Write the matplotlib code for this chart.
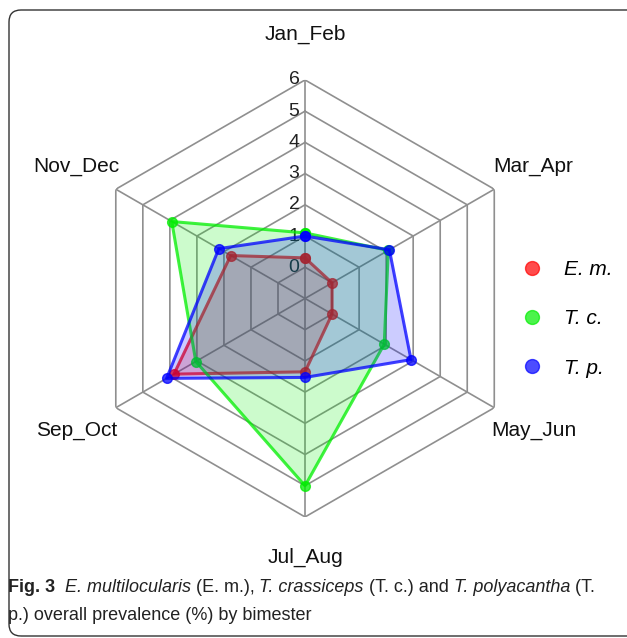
import numpy as np
import matplotlib
matplotlib.use("Agg")
import matplotlib.pyplot as plt
from matplotlib.lines import Line2D
from matplotlib.patches import FancyBboxPatch
from matplotlib.transforms import IdentityTransform

# bimesters, clockwise from the top
labels = ["Jan_Feb", "Mar_Apr", "May_Jun", "Jul_Aug", "Sep_Oct", "Nov_Dec"]

# prevalence (%)
em = [0.3, 0.0, 0.0, 1.35, 3.85, 1.75]
tc = [1.1, 2.08, 1.93, 5.0, 3.04, 3.93]
tp = [1.0, 2.12, 2.92, 1.53, 4.12, 2.19]

series_names = ["E. m.", "T. c.", "T. p."]
colors = ["#ff0000", "#00ee00", "#0000ff"]
rticks = [0, 1, 2, 3, 4, 5, 6]

plt.rcParams['font.family'] = ['Liberation Sans', 'DejaVu Sans']

fig = plt.figure(figsize=(6.27, 6.38), dpi=100)
ax = fig.add_axes([0.138, 0.1897, 0.697, 0.685], projection='polar')
ax.set_theta_offset(np.pi / 2)
ax.set_theta_direction(-1)
ax.set_rlim(-1, 6)
ax.grid(False)
ax.spines['polar'].set_visible(False)
ax.set_xticks([])
ax.set_yticks([])
ax.patch.set_alpha(0)

theta = np.linspace(0, 2 * np.pi, len(labels), endpoint=False)
theta_c = np.append(theta, theta[0])

# hexagonal grid
for r in rticks:
    ax.plot(theta_c, [r] * len(theta_c), color="#8f8f8f", lw=1.2, zorder=0)
for t in theta:
    ax.plot([t, t], [-1, 6], color="#8f8f8f", lw=1.2, zorder=0)

# radial tick labels along the top spoke
for r in rticks:
    ax.annotate(str(r), xy=(0, r), xytext=(-4, 0), textcoords='offset points',
                ha='right', va='center', fontsize=14, color='#222222')

# axis labels
for t, lab in zip(theta, labels):
    rr = 7.45 if lab != "Jul_Aug" else 7.3
    ax.text(t, rr, lab, ha='center', va='center', fontsize=15,
            color='#111111', clip_on=False)

# each series sits above the previous one (later fills tint earlier lines)
for i, (vals, c) in enumerate(zip([em, tc, tp], colors)):
    v = np.append(vals, vals[0])
    ax.fill(theta_c, v, color=c, alpha=0.2, lw=0, zorder=2 + 2 * i)
    ax.plot(theta_c, v, color=c, alpha=0.75, lw=2.2, marker='o', ms=7,
            zorder=3 + 2 * i)

handles = [Line2D([], [], ls='none', marker='o', ms=10, color=c, alpha=0.7)
           for c in colors]
leg = fig.legend(handles, series_names, loc='center left',
                 bbox_to_anchor=(0.786, 0.5), frameon=False,
                 prop={'size': 15, 'style': 'italic'},
                 labelspacing=1.45, handletextpad=0.5)

# caption
cap_font = ['Liberation Sans Narrow', 'Liberation Sans', 'DejaVu Sans']
cap_size = 13
pieces = [("Fig. 3", 'normal', 'bold'), ("  ", 'normal', 'normal'),
          ("E. multilocularis", 'italic', 'normal'), (" (E. m.), ", 'normal', 'normal'),
          ("T. crassiceps", 'italic', 'normal'), (" (T. c.) and ", 'normal', 'normal'),
          ("T. polyacantha", 'italic', 'normal'), (" (T.", 'normal', 'normal')]
prev = None
for s, st, wt in pieces:
    if prev is None:
        prev = fig.text(0.012, 1 - 592 / 638, s, fontsize=cap_size, style=st,
                        weight=wt, family=cap_font, color='#222222',
                        va='baseline')
    else:
        prev = ax.annotate(s, xy=(1, 0), xycoords=prev, fontsize=cap_size,
                           style=st, weight=wt, family=cap_font,
                           color='#222222', va='bottom', ha='left',
                           annotation_clip=False)
fig.text(0.012, 1 - 620 / 638, "p.) overall prevalence (%) by bimester",
         fontsize=cap_size, family=cap_font, color='#222222', va='baseline')

# figure frame
frame = FancyBboxPatch((9, 2), 640, 626, boxstyle="round,pad=0,rounding_size=12",
                       fill=False, ec='#333333', lw=1.0,
                       transform=IdentityTransform())
fig.patches.append(frame)

fig.savefig("out.png", dpi=100)
